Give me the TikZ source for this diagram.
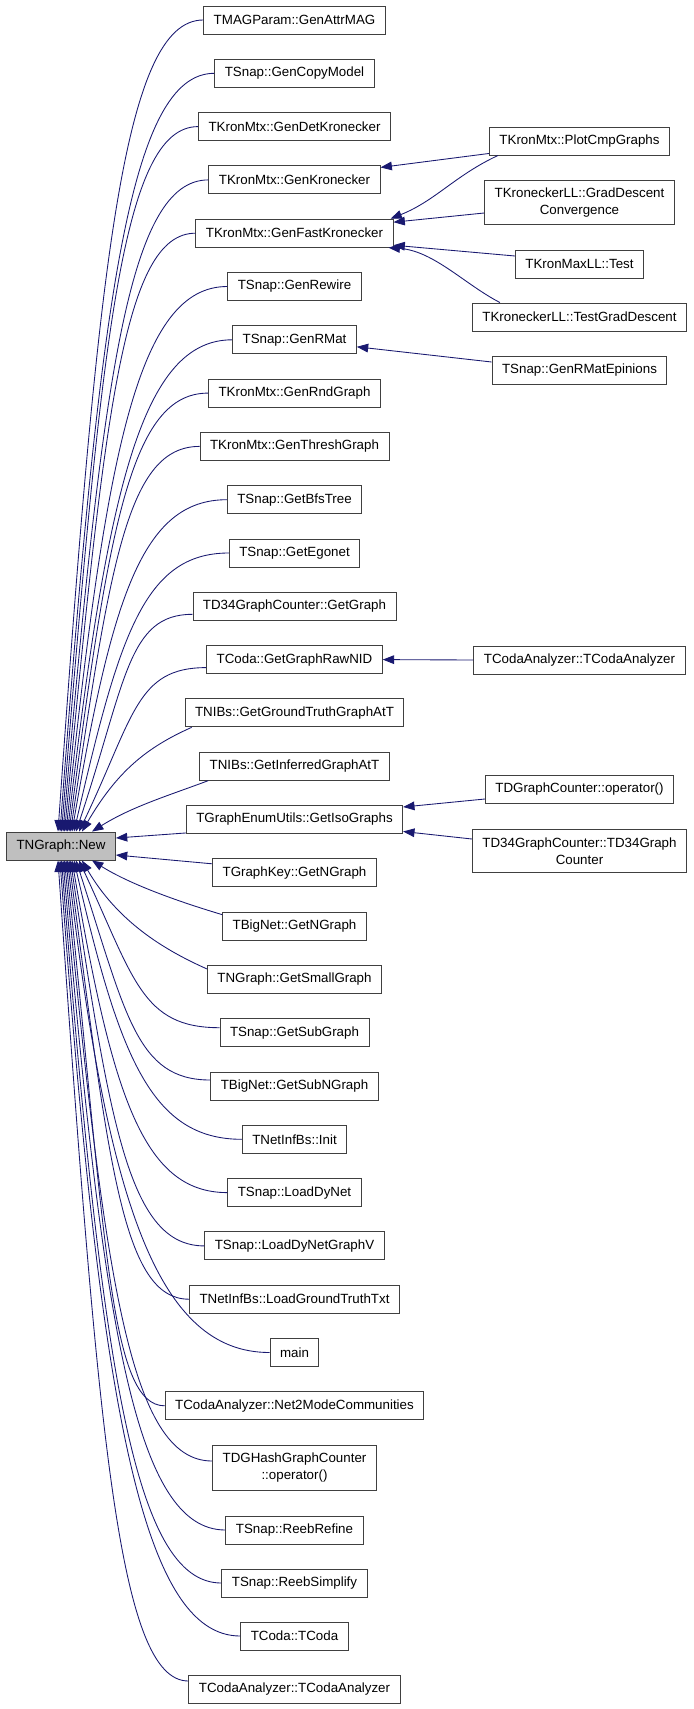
\documentclass[tikz,border=0pt]{standalone}
\usepackage{fontspec}
\setmainfont{Liberation Sans}
\usetikzlibrary{calc, arrows.meta}
\definecolor{callblue}{RGB}{25,25,112}
\definecolor{curgray}{RGB}{191,191,191}

\begin{document}
\begin{tikzpicture}[x=0.75pt, y=0.75pt,
      font=\fontsize{10}{12.75}\selectfont,
      fn/.style ={draw=black!75, line width=0.7pt, fill=white, minimum height=21pt,
                  inner xsep=7.5pt, inner ysep=5.8pt, align=center},
      cur/.style={fn, fill=curgray},
      call/.style={draw=callblue, line width=0.65pt, -{Triangle[length=8.5pt, width=6.5pt]}}
    ]
    \useasboundingbox (0,0) rectangle (693,-1709);

    % Callee
    \node[cur] (new) at (61,-846) {TNGraph::New};

    % Direct callers
    \node[fn] (gattr)  at (294.5,-20)     {TMAGParam::GenAttrMAG};
    \node[fn] (gcopy)  at (294.5,-73.3)   {TSnap::GenCopyModel};
    \node[fn] (gdet)   at (294.5,-126.6)  {TKronMtx::GenDetKronecker};
    \node[fn] (gkron)  at (294.5,-179.9)  {TKronMtx::GenKronecker};
    \node[fn] (gfast)  at (294.5,-233.2)  {TKronMtx::GenFastKronecker};
    \node[fn] (grew)   at (294.5,-286.5)  {TSnap::GenRewire};
    \node[fn] (grmat)  at (294.5,-339.8)  {TSnap::GenRMat};
    \node[fn] (grnd)   at (294.5,-393.1)  {TKronMtx::GenRndGraph};
    \node[fn] (gthr)   at (294.5,-446.4)  {TKronMtx::GenThreshGraph};
    \node[fn] (gbfs)   at (294.5,-499.7)  {TSnap::GetBfsTree};
    \node[fn] (gego)   at (294.5,-553)    {TSnap::GetEgonet};
    \node[fn] (d34get) at (294.5,-606.3)  {TD34GraphCounter::GetGraph};
    \node[fn] (rawnid) at (294.5,-659.6)  {TCoda::GetGraphRawNID};
    \node[fn] (gtruth) at (294.5,-712.9)  {TNIBs::GetGroundTruthGraphAtT};
    \node[fn] (ginf)   at (294.5,-766.2)  {TNIBs::GetInferredGraphAtT};
    \node[fn] (iso)    at (294.5,-819.5)  {TGraphEnumUtils::GetIsoGraphs};
    \node[fn] (keyng)  at (294.5,-872.8)  {TGraphKey::GetNGraph};
    \node[fn] (bnetng) at (294.5,-926.1)  {TBigNet::GetNGraph};
    \node[fn] (small)  at (294.5,-979.4)  {TNGraph::GetSmallGraph};
    \node[fn] (subg)   at (294.5,-1032.7) {TSnap::GetSubGraph};
    \node[fn] (subng)  at (294.5,-1086)   {TBigNet::GetSubNGraph};
    \node[fn] (init)   at (294.5,-1139.3) {TNetInfBs::Init};
    \node[fn] (ldn)    at (294.5,-1192.6) {TSnap::LoadDyNet};
    \node[fn] (ldnv)   at (294.5,-1245.9) {TSnap::LoadDyNetGraphV};
    \node[fn] (lgt)    at (294.5,-1299.2) {TNetInfBs::LoadGroundTruthTxt};
    \node[fn] (main)   at (294.5,-1352.5) {main};
    \node[fn] (n2m)    at (294.5,-1405.8) {TCodaAnalyzer::Net2ModeCommunities};
    \node[fn] (hashop) at (294.5,-1468)   {TDGHashGraphCounter\\::operator()};
    \node[fn] (rref)   at (294.5,-1530)   {TSnap::ReebRefine};
    \node[fn] (rsimp)  at (294.5,-1583)   {TSnap::ReebSimplify};
    \node[fn] (tcoda)  at (294.5,-1636)   {TCoda::TCoda};
    \node[fn] (tcan)   at (294.5,-1689)   {TCodaAnalyzer::TCodaAnalyzer};

    % Second-level callers
    \node[fn] (plotcmp) at (579.5,-141)   {TKronMtx::PlotCmpGraphs};
    \node[fn] (gdconv)  at (579.5,-202.5) {TKroneckerLL::GradDescent\\Convergence};
    \node[fn] (mlltest) at (579.5,-264)   {TKronMaxLL::Test};
    \node[fn] (tgd)     at (579.5,-317)   {TKroneckerLL::TestGradDescent};
    \node[fn] (rmatep)  at (579.5,-370)   {TSnap::GenRMatEpinions};
    \node[fn] (tcan2)   at (579.5,-660)   {TCodaAnalyzer::TCodaAnalyzer};
    \node[fn] (tdgop)   at (579.5,-789)   {TDGraphCounter::operator()};
    \node[fn] (td34)    at (579.5,-851)   {TD34GraphCounter::TD34Graph\\Counter};

    % Calls into TNGraph::New from above
    \draw[call] (gattr.west)  .. controls +(-80,0) and +(40,568) .. ($(new.north)+(-3,0)$);
    \draw[call] (gcopy.west)  .. controls +(-85,0) and +(40,531) .. ($(new.north)+(-1,0)$);
    \draw[call] (gdet.west)   .. controls +(-76,0) and +(40,494) .. ($(new.north)+(0.5,0)$);
    \draw[call] (gkron.west)  .. controls +(-80,0) and +(40,456) .. ($(new.north)+(2,0)$);
    \draw[call] (gfast.west)  .. controls +(-72,0) and +(40,419) .. ($(new.north)+(3.5,0)$);
    \draw[call] (grew.west)   .. controls +(-89,0) and +(40,382) .. ($(new.north)+(5,0)$);
    \draw[call] (grmat.west)  .. controls +(-90,0) and +(40,344) .. ($(new.north)+(6.5,0)$);
    \draw[call] (grnd.west)   .. controls +(-77,0) and +(40,307) .. ($(new.north)+(8,0)$);
    \draw[call] (gthr.west)   .. controls +(-72,0) and +(40,270) .. ($(new.north)+(9.5,0)$);
    \draw[call] (gbfs.west)   .. controls +(-85,0) and +(40,233) .. ($(new.north)+(11,0)$);
    \draw[call] (gego.west)   .. controls +(-85,0) and +(45,195) .. ($(new.north)+(13,0)$);
    \draw[call] ($(d34get.west)+(0,-8)$) .. controls +(-65,0) and +(50,150) .. ($(new.north)+(15,0)$);
    \draw[call] ($(rawnid.west)+(0,-8)$) .. controls +(-70,0) and +(55,115) .. ($(new.north)+(18,0)$);
    \draw[call] ($(gtruth.south west)+(7,0)$) .. controls +(-45,-20) and +(35,60) .. ($(new.north)+(21,0)$);
    \draw[call] ($(ginf.south west)+(9,0)$) .. controls +(-40,-15) and +(40,25) .. ($(new.north)+(31,0)$);

    % Calls into TNGraph::New from the side
    \draw[call] ($(iso.south west)+(0,1)$) -- ($(new.east)+(0,8)$);
    \draw[call] ($(keyng.west)+(0,9)$) -- ($(new.east)+(0,-9)$);

    % Calls into TNGraph::New from below
    \draw[call] ($(bnetng.north west)+(0,-3)$) .. controls +(-40,12) and +(40,-25) .. ($(new.south)+(31,0)$);
    \draw[call] ($(small.north west)+(0,-4)$) .. controls +(-45,20) and +(35,-60) .. ($(new.south)+(21,0)$);
    \draw[call] ($(subg.west)+(0,5)$)   .. controls +(-78,0) and +(55,-118) .. ($(new.south)+(18,0)$);
    \draw[call] ($(subng.west)+(0,6)$)  .. controls +(-74,0) and +(50,-154) .. ($(new.south)+(15,0)$);
    \draw[call] (init.west)   .. controls +(-91,0) and +(45,-195) .. ($(new.south)+(13,0)$);
    \draw[call] (ldn.west)    .. controls +(-85,0) and +(40,-233) .. ($(new.south)+(11,0)$);
    \draw[call] (ldnv.west)   .. controls +(-74,0) and +(40,-270) .. ($(new.south)+(9.5,0)$);
    \draw[call] (lgt.west)    .. controls +(-66,0) and +(40,-307) .. ($(new.south)+(8,0)$);
    \draw[call] (main.west)   .. controls +(-111,0) and +(40,-345) .. ($(new.south)+(6.5,0)$);
    \draw[call] (n2m.west)    .. controls +(-55,0) and +(40,-382) .. ($(new.south)+(5,0)$);
    \draw[call] ($(hashop.west)+(0,7)$) .. controls +(-82,0) and +(40,-421) .. ($(new.south)+(3.5,0)$);
    \draw[call] (rref.west)   .. controls +(-90,0) and +(40,-469) .. ($(new.south)+(2,0)$);
    \draw[call] (rsimp.west)  .. controls +(-88,0) and +(40,-506) .. ($(new.south)+(0.5,0)$);
    \draw[call] (tcoda.west)  .. controls +(-99,0) and +(40,-543) .. ($(new.south)+(-1,0)$);
    \draw[call] ($(tcan.west)+(0,8)$) .. controls +(-70,0) and +(40,-575) .. ($(new.south)+(-3,0)$);

    % Second-level calls
    \draw[call] ($(plotcmp.south west)+(0,2)$) -- ($(gkron.north east)+(0,-2)$);
    \draw[call] ($(plotcmp.south west)+(9,0)$) .. controls +(-43,-20) and +(45,18) .. ($(gfast.north east)+(-3,0)$);
    \draw[call] ($(gdconv.west)+(0,-10.5)$) -- ($(gfast.east)+(0,11)$);
    \draw[call] ($(mlltest.west)+(0,8)$) -- ($(gfast.east)+(0,-12)$);
    \draw[call] ($(tgd.north west)+(28,0)$) .. controls +(-35,18) and +(45,-3) .. ($(gfast.south east)+(-5,0)$);
    \draw[call] ($(rmatep.west)+(0,8)$) -- ($(grmat.east)+(0,-7)$);
    \draw[call] (tcan2.west) -- (rawnid.east);
    \draw[call] ($(tdgop.west)+(0,-10)$) -- ($(iso.east)+(0,12.5)$);
    \draw[call] ($(td34.west)+(0,12)$) -- ($(iso.east)+(0,-12)$);
\end{tikzpicture}
\end{document}
